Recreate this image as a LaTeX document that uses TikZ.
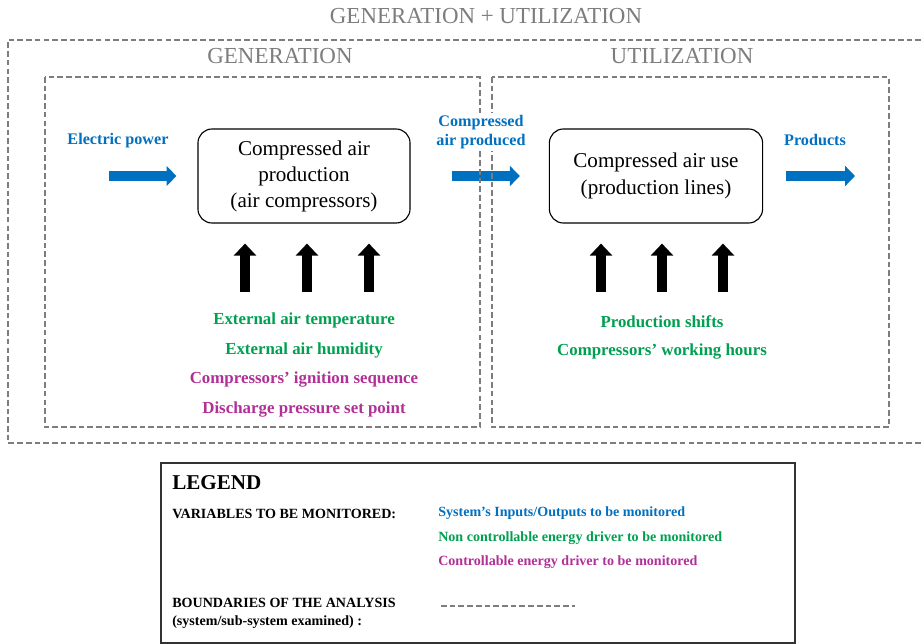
\documentclass[tikz,border=0pt]{standalone}
\usepackage{fontspec}
\setmainfont{Liberation Serif}
\usetikzlibrary{arrows.meta}
\definecolor{flowblue}{RGB}{0,112,192}
\definecolor{drvgreen}{RGB}{0,160,80}
\definecolor{drvmagenta}{RGB}{176,48,150}
\definecolor{bndgray}{RGB}{125,125,125}

\begin{document}
\begin{tikzpicture}[x=0.025cm,y=-0.025cm]
    \tikzstyle{bound}=[draw=bndgray,line width=1.5pt,dash pattern=on 4pt off 2.2pt]
    \tikzstyle{boundlbl}=[text=bndgray,font=\fontsize{16.3}{19}\selectfont]
    \tikzstyle{process}=[draw,rounded corners=10pt,line width=0.8pt,align=center]
    \tikzstyle{flow}=[flowblue,line width=7pt,-{Triangle[length=7pt,width=14pt]}]
    \tikzstyle{driver}=[black,line width=7.5pt,-{Triangle[length=8.5pt,width=15.5pt]}]
    \tikzstyle{flowlbl}=[text=flowblue,font=\fontsize{11.5}{14}\selectfont\bfseries,align=center]
    \tikzstyle{ncd}=[text=drvgreen,font=\fontsize{12}{14}\selectfont\bfseries]
    \tikzstyle{cd}=[text=drvmagenta,font=\fontsize{12}{14}\selectfont\bfseries]
    \tikzstyle{lgd}=[anchor=west,inner sep=0pt,font=\fontsize{10}{13}\selectfont\bfseries]
    \useasboundingbox(0,0)rectangle(921,644);

    % the two blocks
    \node[process,minimum width=5.3cm,minimum height=2.35cm,font=\fontsize{15}{18.5}\selectfont](prod)at(304,176){Compressed air\\production\\(air compressors)};
    \node[process,minimum width=5.33cm,minimum height=2.35cm,font=\fontsize{15}{19.5}\selectfont](use)at(656,176){Compressed air use\\(production lines)};

    % inputs / outputs
    \node[flowlbl](elec)at(118,141){Electric power};
    \node[flowlbl](prods)at(815,140){Products};
    \coordinate(elecin)at(109,176);
    \coordinate(prodsout)at(855,176);
    \draw[flow,shorten >=0.525cm](elecin)--(prod.west);
    \draw[flow,shorten <=1.025cm,shorten >=0.725cm](prod.east)--(use.west);
    \draw[flow,shorten <=0.575cm](use.east)--(prodsout);

    % energy drivers
    \foreach \x[count=\i] in {245,307,369}{
      \coordinate(g\i)at(\x,292);
      \draw[driver,shorten >=0.5cm](g\i)--(g\i|-prod.south);
    }
    \foreach \x[count=\i] in {601,662,723}{
      \coordinate(u\i)at(\x,292);
      \draw[driver,shorten >=0.5cm](u\i)--(u\i|-use.south);
    }
    \node[ncd](tair)at(304,320){External air temperature};
    \node[ncd](hum)at(304,350){External air humidity};
    \node[cd](seq)at(304,380){Compressors’ ignition sequence};
    \node[cd](dp)at(304,410){Discharge pressure set point};
    \node[ncd](shifts)at(662,322){Production shifts};
    \node[ncd](hours)at(662,352){Compressors’ working hours};

    % boundaries
    \draw[bound](921,40)--(8,40)--(8,443)--(921,443);
    \draw[bound](45,77)rectangle(480,427);
    \draw[bound](492,77)rectangle(889,427);
    \node[boundlbl](gu)at(486,16){GENERATION + UTILIZATION};
    \node[boundlbl](gen)at(280,56){GENERATION};
    \node[boundlbl](util)at(682,56){UTILIZATION};
    \node[flowlbl,fill=white,inner sep=1pt](cair)at(481,132){Compressed\\air produced};

    % legend
    \draw[line width=1.2pt,draw=black!80](161,463)rectangle(795,643);
    \node[lgd,font=\fontsize{15}{18}\selectfont\bfseries](leg)at(172,483){LEGEND};
    \node[lgd](vars)at(172,514){VARIABLES TO BE MONITORED:};
    \node[lgd,text=flowblue](io)at(438,513){System’s Inputs/Outputs to be monitored};
    \node[lgd,text=drvgreen](nc)at(438,538){Non controllable energy driver to be monitored};
    \node[lgd,text=drvmagenta](ct)at(438,562){Controllable energy driver to be monitored};
    \node[lgd,align=left](bnd)at(172,613){BOUNDARIES OF THE ANALYSIS\\(system/sub-system examined) :};
    \draw[bound,line width=1.3pt](441,606)--(575,606);
\end{tikzpicture}
\end{document}
